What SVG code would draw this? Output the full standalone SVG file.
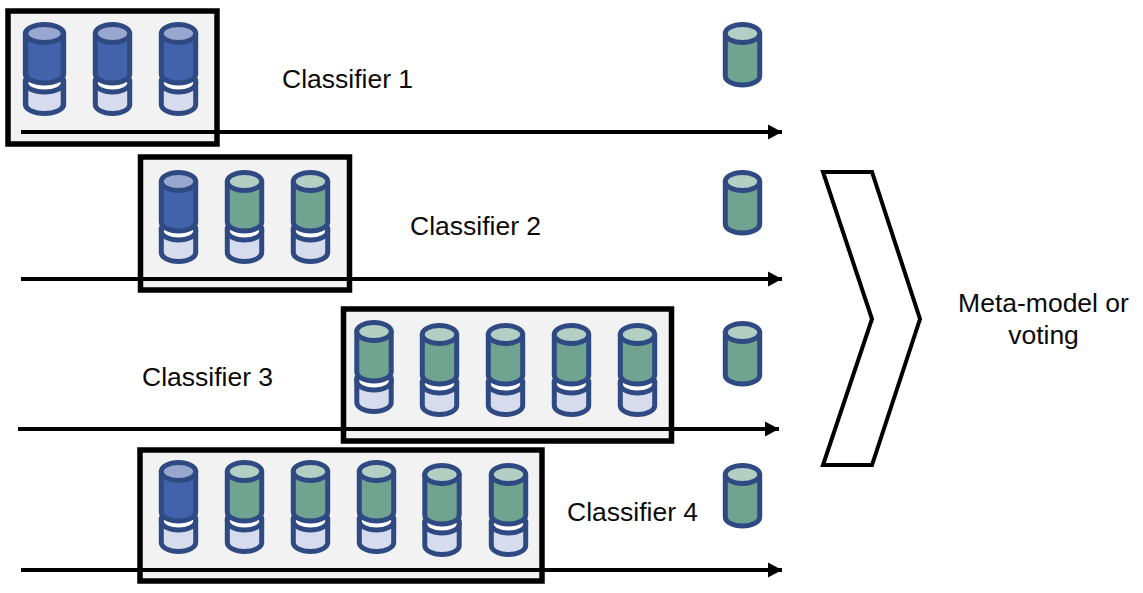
<svg xmlns="http://www.w3.org/2000/svg" xmlns:xlink="http://www.w3.org/1999/xlink" width="1143" height="593" viewBox="0 0 1143 593">
<style>
.frame{fill:#f2f2f2;stroke:#000;stroke-width:5.5}
.c{stroke:#2f4a82;stroke-width:5;stroke-linejoin:round}
.line{stroke:#000;stroke-width:4;fill:none;marker-end:url(#ah)}
text{font-family:"Liberation Sans",Arial,sans-serif;font-size:26.5px;fill:#0a0a0a}
</style>
<defs>
<marker id="ah" markerUnits="userSpaceOnUse" markerWidth="15" markerHeight="16" refX="14" refY="8" orient="auto"><path d="M0,0.500L14,8L0,15.500Z" fill="#000"/></marker>
<g id="blue">
<path class="c" fill="#d6dcee" d="M-17.2,58V82.500A17.200,9 0 0 0 17.200,82.500V58Z"/>
<ellipse class="c" fill="#fff" cx="0" cy="61" rx="17.200" ry="9"/>
<path class="c" fill="#4263ab" d="M-17.2,11.500V52A17.200,9 0 0 0 17.200,52V11.500Z"/>
<ellipse class="c" fill="#98a7cf" cx="0" cy="11.500" rx="17.200" ry="9"/>
</g>
<g id="green">
<path class="c" fill="#d6dcee" d="M-17.2,58V82.500A17.200,9 0 0 0 17.200,82.500V58Z"/>
<ellipse class="c" fill="#fff" cx="0" cy="61" rx="17.200" ry="9"/>
<path class="c" fill="#70a491" d="M-17.2,11.500V52A17.200,9 0 0 0 17.200,52V11.500Z"/>
<ellipse class="c" fill="#b3cfc4" cx="0" cy="11.500" rx="17.200" ry="9"/>
</g>
<g id="out">
<path class="c" fill="#70a491" d="M-17.2,11.500V54A17.200,9 0 0 0 17.200,54V11.500Z"/>
<ellipse class="c" fill="#b3cfc4" cx="0" cy="11.500" rx="17.200" ry="9"/>
</g>
</defs>
<rect width="1143" height="593" fill="#fff"/>
<g id="classifier-1">
<rect class="frame" x="8" y="11" width="209" height="133"/>
<use xlink:href="#blue" transform="translate(44.5,22) scale(1.1,1)"/>
<use xlink:href="#blue" x="112.500" y="22"/>
<use xlink:href="#blue" x="178.500" y="22"/>
<text x="282" y="88">Classifier 1</text>
</g>
<g id="classifier-2">
<rect class="frame" x="140.500" y="157" width="209" height="133"/>
<use xlink:href="#blue" x="178.500" y="170"/>
<use xlink:href="#green" x="244.500" y="170"/>
<use xlink:href="#green" x="310.500" y="170"/>
<text x="410" y="235">Classifier 2</text>
</g>
<g id="classifier-3">
<rect class="frame" x="343.500" y="309" width="328" height="132"/>
<use xlink:href="#green" x="374" y="320"/>
<use xlink:href="#green" x="439.500" y="323"/>
<use xlink:href="#green" x="505.500" y="323"/>
<use xlink:href="#green" x="571.500" y="323"/>
<use xlink:href="#green" x="637.500" y="323"/>
<text x="142" y="386">Classifier 3</text>
</g>
<g id="classifier-4">
<rect class="frame" x="140" y="450" width="402" height="131"/>
<use xlink:href="#blue" x="178.500" y="460"/>
<use xlink:href="#green" x="244.500" y="460"/>
<use xlink:href="#green" x="310.500" y="460"/>
<use xlink:href="#green" x="376.500" y="460"/>
<use xlink:href="#green" x="442" y="463"/>
<use xlink:href="#green" x="508.500" y="463"/>
<text x="567" y="521">Classifier 4</text>
</g>
<g id="output-1"><use xlink:href="#out" x="742.500" y="22"/></g>
<g id="output-2"><use xlink:href="#out" x="742.500" y="170"/></g>
<g id="output-3"><use xlink:href="#out" x="742.500" y="321"/></g>
<g id="output-4"><use xlink:href="#out" x="742.500" y="463"/></g>
<g id="meta">
<polygon points="823,172 872,172 920,319 872,465 823,465 872,319" fill="#fff" stroke="#000" stroke-width="4"/>
<text x="1043.500" y="312" text-anchor="middle">Meta-model or</text>
<text x="1043.500" y="344" text-anchor="middle">voting</text>
</g>
<g id="connectors">
<path class="line" d="M21,132H782"/>
<path class="line" d="M21,279H782"/>
<path class="line" d="M18,429H779"/>
<path class="line" d="M21,570H782"/>
</g>
</svg>
